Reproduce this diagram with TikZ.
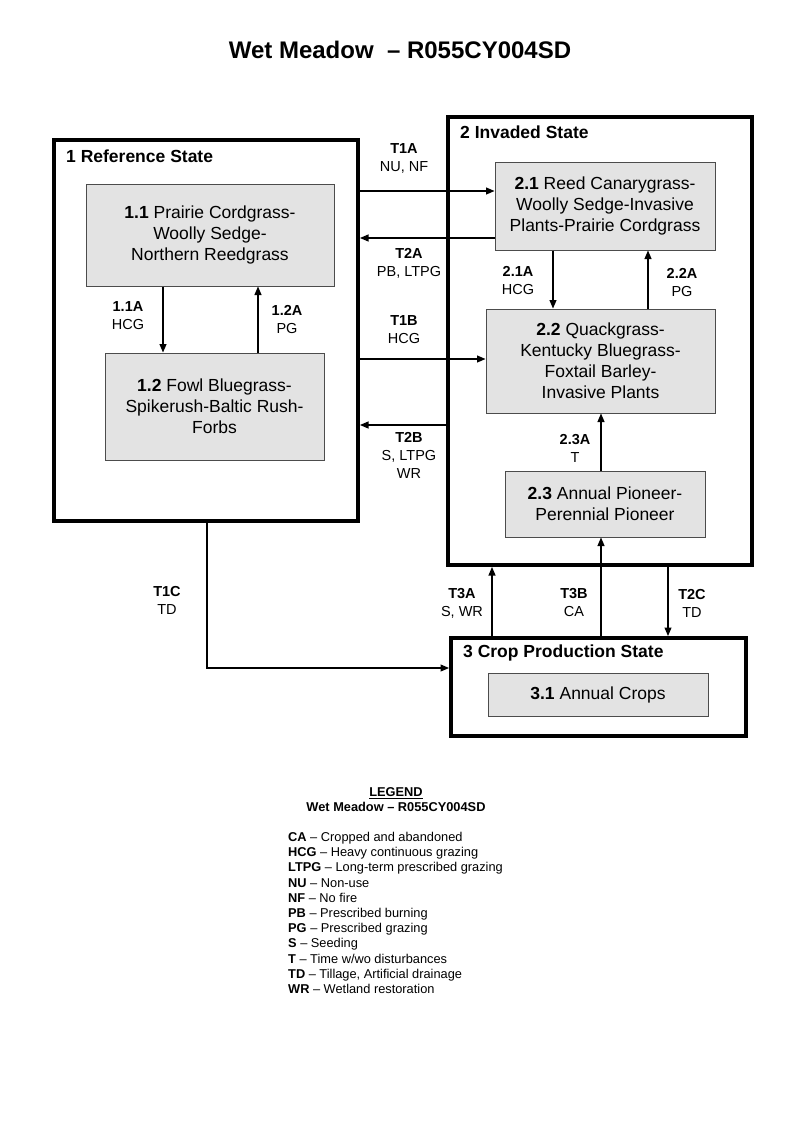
\documentclass[tikz,border=0pt]{standalone}
\usepackage{fontspec}
\setmainfont{Liberation Sans}
\usetikzlibrary{arrows.meta}
\begin{document}
\begin{tikzpicture}[x=1pt,y=-1pt,
  statebox/.style={draw=black,line width=4pt,rectangle,inner sep=0pt},
  commbox/.style={draw=black!70,line width=1pt,fill=black!11,rectangle,inner sep=0pt,align=center,font=\fontsize{17.5}{21}\selectfont},
  stitle/.style={anchor=west,inner sep=0pt,font=\bfseries\fontsize{17.5}{21}\selectfont},
  lbl/.style={align=center,inner sep=0pt,font=\fontsize{14.5}{18}\selectfont},
  arr/.style={line width=1.1pt,-{Triangle[length=8.5pt,width=7pt]}}]
\useasboundingbox (0,0) rectangle (800,1143);
% title
\node[font=\bfseries\fontsize{24}{28}\selectfont] (title) at (400,50) {Wet Meadow \ – R055CY004SD};
% states
\node[statebox,minimum width=304pt,minimum height=381pt] (s1) at (206,330.5) {};
\node[statebox,minimum width=304pt,minimum height=448pt] (s2) at (600,341) {};
\node[statebox,minimum width=295pt,minimum height=98pt] (s3) at (598.5,687) {};
\node[stitle] (t1) at (66,156) {1 Reference State};
\node[stitle] (t2) at (460,132) {2 Invaded State};
\node[stitle] (t3) at (463,653) {3 Crop Production State};
% communities
\node[commbox,minimum width=248pt,minimum height=102pt] (b11) at (210,235) {\textbf{1.1} Prairie Cordgrass-\\Woolly Sedge-\\Northern Reedgrass};
\node[commbox,minimum width=219pt,minimum height=107pt] (b12) at (214.5,406.5) {\textbf{1.2} Fowl Bluegrass-\\Spikerush-Baltic Rush-\\Forbs};
\node[commbox,minimum width=220pt,minimum height=88pt] (b21) at (605,206) {\textbf{2.1} Reed Canarygrass-\\Woolly Sedge-Invasive\\Plants-Prairie Cordgrass};
\node[commbox,minimum width=229pt,minimum height=104pt] (b22) at (600.5,361) {\textbf{2.2} Quackgrass-\\Kentucky Bluegrass-\\Foxtail Barley-\\Invasive Plants};
\node[commbox,minimum width=200pt,minimum height=66pt] (b23) at (605,504) {\textbf{2.3} Annual Pioneer-\\Perennial Pioneer};
\node[commbox,minimum width=220pt,minimum height=43pt] (b31) at (598,694.5) {\textbf{3.1} Annual Crops};
% within-state arrows
\draw[arr] ([xshift=-47pt]b11.south) -- ([xshift=-47pt]b11.south |- b12.north);
\draw[arr] ([xshift=43.5pt]b12.north) -- ([xshift=43.5pt]b12.north |- b11.south);
\draw[arr] ([xshift=-52pt]b21.south) -- ([xshift=-52pt]b21.south |- b22.north);
\draw[arr] ([xshift=47.5pt]b22.north) -- ([xshift=47.5pt]b22.north |- b21.south);
\draw[arr] ([xshift=-4pt]b23.north) -- ([xshift=-4pt]b23.north |- b22.south);
% transitions
\draw[arr] ([yshift=139.5pt]s1.east) -- ([yshift=139.5pt]s1.east -| b21.west);
\draw[arr] ([yshift=-32pt]b21.west) -- ([yshift=-32pt]b21.west -| s1.east);
\draw[arr] ([yshift=2pt]b22.west -| s1.east) -- ([yshift=2pt]b22.west);
\draw[arr] ([yshift=-84pt]s2.west) -- ([yshift=-84pt]s2.west -| s1.east);
\draw[arr] ([xshift=1pt]s1.south) |- ([yshift=19pt]s3.west);
\draw[arr] ([xshift=-106.5pt]s3.north) -- ([xshift=-106.5pt]s3.north |- s2.south);
\draw[arr] ([xshift=2.5pt]s3.north) -- ([xshift=2.5pt]s3.north |- b23.south);
\draw[arr] ([xshift=68pt]s2.south) -- ([xshift=68pt]s2.south |- s3.north);
% labels
\node[lbl] (l11a) at (128,315.5) {\textbf{1.1A}\\HCG};
\node[lbl] (l12a) at (287,320) {\textbf{1.2A}\\PG};
\node[lbl] (l21a) at (518,281) {\textbf{2.1A}\\HCG};
\node[lbl] (l22a) at (682,283) {\textbf{2.2A}\\PG};
\node[lbl] (l23a) at (575,448) {\textbf{2.3A}\\T};
\node[lbl] (lt1a) at (404,158) {\textbf{T1A}\\NU, NF};
\node[lbl] (lt2a) at (409,263) {\textbf{T2A}\\PB, LTPG};
\node[lbl] (lt1b) at (404,330) {\textbf{T1B}\\HCG};
\node[lbl] (lt2b) at (409,455.5) {\textbf{T2B}\\S, LTPG\\WR};
\node[lbl] (lt1c) at (167,600) {\textbf{T1C}\\TD};
\node[lbl] (lt3a) at (462,603) {\textbf{T3A}\\S, WR};
\node[lbl] (lt3b) at (574,603) {\textbf{T3B}\\CA};
\node[lbl] (lt2c) at (692,603) {\textbf{T2C}\\TD};
% legend
\node[inner sep=0pt,font=\bfseries\fontsize{12.8}{15.2}\selectfont,align=center] (legt) at (396,799.5) {\underline{LEGEND}\\Wet Meadow – R055CY004SD};
\node[inner sep=0pt,anchor=west,align=left,font=\fontsize{12.8}{15.2}\selectfont] (leg) at (288,913) {%
\textbf{CA} – Cropped and abandoned\\
\textbf{HCG} – Heavy continuous grazing\\
\textbf{LTPG} – Long-term prescribed grazing\\
\textbf{NU} – Non-use\\
\textbf{NF} – No fire\\
\textbf{PB} – Prescribed burning\\
\textbf{PG} – Prescribed grazing\\
\textbf{S} – Seeding\\
\textbf{T} – Time w/wo disturbances\\
\textbf{TD} – Tillage, Artificial drainage\\
\textbf{WR} – Wetland restoration};
\end{tikzpicture}
\end{document}
